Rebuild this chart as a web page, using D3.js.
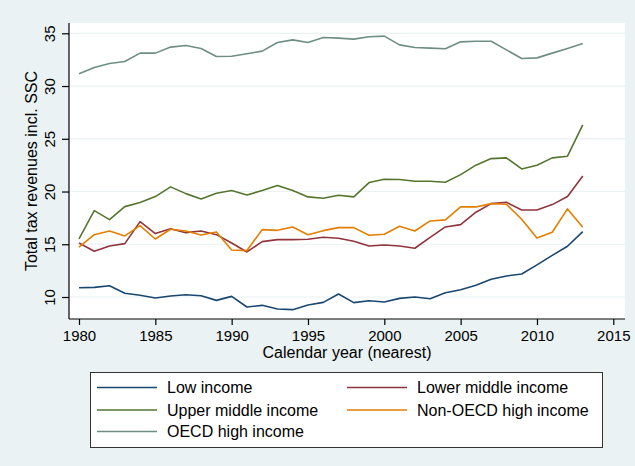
<!DOCTYPE html>
<html>
<head>
<meta charset="utf-8">
<script src="https://cdn.jsdelivr.net/npm/d3@7"></script>
<style>
  body { margin: 0; background: #eaf2f3; }
  svg { display: block; font-family: "Liberation Sans", Arial, sans-serif; }
</style>
</head>
<body>
<svg id="chart" width="635" height="466"></svg>
<script>
const years = d3.range(1980, 2014);

const lowIncome = [10.88, 10.91, 11.07, 10.35, 10.16, 9.91, 10.09, 10.22, 10.12, 9.68,
    10.06, 9.05, 9.21, 8.86, 8.80, 9.24, 9.49, 10.28, 9.47, 9.65,
    9.53, 9.87, 10.0, 9.84, 10.41, 10.69, 11.11, 11.68, 11.99, 12.18,
    13.04, 13.95, 14.81, 16.20];
const lowerMiddle = [15.12, 14.34, 14.84, 15.06, 17.15, 16.01, 16.48, 16.10, 16.26, 15.91,
    15.12, 14.27, 15.25, 15.44, 15.44, 15.47, 15.66, 15.57, 15.28, 14.84,
    14.93, 14.84, 14.62, 15.66, 16.64, 16.86, 18.04, 18.85, 18.98, 18.25,
    18.25, 18.76, 19.52, 21.48];
const upperMiddle = [15.50, 18.19, 17.34, 18.57, 18.95, 19.52, 20.44, 19.80, 19.30, 19.84,
    20.09, 19.68, 20.09, 20.56, 20.09, 19.49, 19.36, 19.65, 19.49, 20.85,
    21.17, 21.14, 20.98, 20.98, 20.88, 21.60, 22.50, 23.12, 23.19, 22.14,
    22.49, 23.19, 23.35, 26.32];
const nonOecdHigh = [14.72, 15.91, 16.26, 15.79, 16.77, 15.50, 16.42, 16.26, 15.88, 16.17,
    14.46, 14.40, 16.39, 16.32, 16.64, 15.91, 16.29, 16.58, 16.58, 15.85,
    15.95, 16.71, 16.26, 17.21, 17.31, 18.54, 18.54, 18.85, 18.79, 17.37,
    15.60, 16.14, 18.35, 16.61];
const oecdHigh = [31.16, 31.76, 32.14, 32.33, 33.12, 33.12, 33.69, 33.85, 33.56, 32.80,
    32.83, 33.06, 33.31, 34.13, 34.38, 34.13, 34.60, 34.54, 34.45, 34.67,
    34.73, 33.90, 33.65, 33.59, 33.53, 34.19, 34.25, 34.25, 33.43, 32.61,
    32.67, 33.12, 33.56, 34.03];

const seriesNames = ["Low income", "Lower middle income", "Upper middle income",
    "Non-OECD high income", "OECD high income"];
const seriesValues = [lowIncome, lowerMiddle, upperMiddle, nonOecdHigh, oecdHigh];
const colors = ["#1a476f", "#90353b", "#55752f", "#e37e00", "#6e8e84"];

const xTicks = [1980, 1985, 1990, 1995, 2000, 2005, 2010, 2015];
const yTicks = [10, 15, 20, 25, 30, 35];

const svg = d3.select("#chart");
const tickFont = 15;
const titleFont = 16;

// plot region
const plot = { left: 69, right: 625, top: 23, bottom: 319 };

const x = d3.scaleLinear().domain([1980, 2015]).range([79, 613.3]);
const y = d3.scaleLinear().domain([10, 35]).range([297, 33.3]);

svg.append("rect")
    .attr("x", plot.left)
    .attr("y", plot.top)
    .attr("width", plot.right - plot.left)
    .attr("height", plot.bottom - plot.top)
    .attr("fill", "white");

// grid lines
svg.append("g")
    .selectAll("line")
    .data(yTicks)
    .join("line")
    .attr("x1", plot.left)
    .attr("x2", plot.right)
    .attr("y1", d => y(d))
    .attr("y2", d => y(d))
    .attr("stroke", "#eaf2f3")
    .attr("stroke-width", 1.2);

// lines
const line = d3.line()
    .x((d, i) => x(years[i]))
    .y(d => y(d));

seriesValues.forEach((vals, i) => {
    svg.append("path")
        .datum(vals)
        .attr("fill", "none")
        .attr("stroke", colors[i])
        .attr("stroke-width", 1.6)
        .attr("stroke-linejoin", "round")
        .attr("d", line);
});

// x axis
const xAxis = svg.append("g")
    .attr("transform", `translate(0,${plot.bottom})`)
    .call(d3.axisBottom(x).tickValues(xTicks).tickFormat(d3.format("d")).tickSize(6).tickSizeOuter(0));
xAxis.select(".domain").remove();
xAxis.append("line")
    .attr("x1", plot.left).attr("x2", plot.right)
    .attr("stroke", "black").attr("stroke-width", 1.2);
xAxis.selectAll(".tick line").attr("stroke", "black").attr("stroke-width", 1.2);
xAxis.selectAll(".tick text")
    .attr("y", 22)
    .attr("dy", null)
    .attr("fill", "black")
    .style("font-size", tickFont + "px")
    .style("font-family", "Liberation Sans, Arial, sans-serif");

// y axis
const yAxis = svg.append("g")
    .attr("transform", `translate(${plot.left},0)`)
    .call(d3.axisLeft(y).tickValues(yTicks).tickSize(7).tickSizeOuter(0));
yAxis.select(".domain").remove();
yAxis.append("line")
    .attr("y1", plot.top).attr("y2", plot.bottom)
    .attr("stroke", "black").attr("stroke-width", 1.2);
yAxis.selectAll(".tick line").attr("stroke", "black").attr("stroke-width", 1.2);
yAxis.selectAll(".tick text")
    .attr("x", null)
    .attr("dy", null)
    .attr("transform", "translate(-14,0) rotate(-90)")
    .attr("text-anchor", "middle")
    .attr("fill", "black")
    .style("font-size", tickFont + "px")
    .style("font-family", "Liberation Sans, Arial, sans-serif");

// axis titles
svg.append("text")
    .attr("x", (plot.left + plot.right) / 2)
    .attr("y", 357.5)
    .attr("text-anchor", "middle")
    .style("font-size", titleFont + "px")
    .text("Calendar year (nearest)");

svg.append("text")
    .attr("transform", `translate(37,${(plot.top + plot.bottom) / 2}) rotate(-90)`)
    .attr("text-anchor", "middle")
    .style("font-size", titleFont + "px")
    .text("Total tax revenues incl. SSC");

// legend
const legend = svg.append("g");
legend.append("rect")
    .attr("x", 90.5).attr("y", 372.5)
    .attr("width", 512).attr("height", 75)
    .attr("fill", "white")
    .attr("stroke", "#333").attr("stroke-width", 1);

const colX = [97, 347];
const rowY = [387.5, 410, 431.5];
seriesNames.forEach((name, i) => {
    const cx = colX[i % 2];
    const cy = rowY[Math.floor(i / 2)];
    legend.append("line")
        .attr("x1", cx).attr("x2", cx + 60)
        .attr("y1", cy).attr("y2", cy)
        .attr("stroke", colors[i])
        .attr("stroke-width", 1.6);
    legend.append("text")
        .attr("x", cx + 70)
        .attr("y", cy + 5.7)
        .style("font-size", titleFont + "px")
        .text(name);
});
</script>
</body>
</html>
